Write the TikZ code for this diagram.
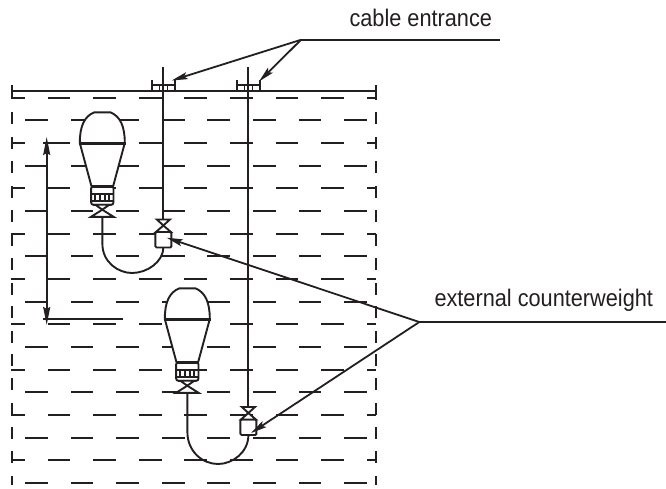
\documentclass[tikz,border=0pt]{standalone}
\usepackage{fontspec}
\setmainfont[FakeStretch=0.905]{Liberation Sans}
\usetikzlibrary{arrows.meta}
\definecolor{ink}{HTML}{231F20}
\tikzset{
  wline/.style={draw=ink,line width=1.9pt},
  leader/.style={draw=ink,line width=1.8pt,-{Stealth[length=16pt,width=7pt,inset=3pt]}},
  plain/.style={draw=ink,line width=1.9pt},
  label/.style={anchor=base west,inner sep=0pt,text=ink,font=\fontsize{24pt}{26pt}\selectfont},
}
% straight strokes as filled bars on the pixel grid, so that all of them render with one weight
\newcommand{\hbarline}[3]{\pgfmathsetmacro{\bara}{round(#3-1)+0.1}\pgfmathsetmacro{\barb}{\bara+1.8}\fill[ink] (#1,\bara) rectangle (#2,\barb);}
\newcommand{\vbarline}[3]{\pgfmathsetmacro{\bara}{round(#1-1)+0.1}\pgfmathsetmacro{\barb}{\bara+1.8}\fill[ink] (\bara,#2) rectangle (\barb,#3);}
\newcommand{\bulb}[2]{%
  \begin{scope}[shift={(#1,#2)}]
    \path[wline,fill=white,line join=round] (-22.5,30.7) .. controls (-22.5,14) and (-18,4) .. (-8,0) -- (8,0) .. controls (18,4) and (22.5,14) .. (22.5,30.7) -- (10.9,73.7) -- (-10.9,73.7) -- cycle;
    \fill[ink] (-23.5,29.2) rectangle (23.5,32.2);
    \path[wline,fill=white,rounded corners=2.5pt] (-11.2,73.7) -- (-11.2,92.6) -- (11.2,92.6) -- (11.2,73.7) -- cycle;
    \fill[ink] (-11.8,73) rectangle (11.8,75.4);
    \fill[ink] (-11.2,80.6) rectangle (11.2,82.6);
    \fill[ink] (-11.2,87.6) rectangle (11.2,89.6);
    \foreach \tx in {-7,-2.4,2.4,7}{\fill[ink] (\tx-0.9,81) rectangle (\tx+0.9,88);}
    \path[wline,fill=white,line join=miter] (-7,92.4) -- (7,92.4) -- (0,97.4) -- cycle;
    \path[wline,fill=white,line join=miter] (0,97.4) -- (11.4,104.6) -- (-11.4,104.6) -- cycle;
  \end{scope}}
\newcommand{\weight}[2]{%
  \begin{scope}[shift={(#1,#2)}]
    \path[wline,fill=white,rounded corners=1.2pt] (-8,232) rectangle (8,247.5);
    \path[wline,fill=white,line join=miter] (-6.5,219.5) -- (6.5,219.5) -- (0,225.5) -- cycle;
    \path[wline,fill=white,line join=miter] (0,225.5) -- (7.5,232) -- (-7.5,232) -- cycle;
  \end{scope}}
\begin{document}
\begin{tikzpicture}[x=1pt,y=-1pt]
\useasboundingbox (0,0) rectangle (666,488);
\fill[white] (0,0) rectangle (666,488);
% rows of the liquid
\foreach \k in {0,2,4,...,16}{
  \pgfmathsetmacro{\yy}{97.7+22.67*\k}
  \hbarline{11}{25}{\yy}
  \foreach \n in {0,...,6}{
    \pgfmathsetmacro{\xa}{47.5+45.6*\n}
    \pgfmathsetmacro{\xb}{\xa+22.8}
    \hbarline{\xa}{\xb}{\yy}
  }
  \hbarline{366.7}{376}{\yy}
}
\foreach \k in {1,3,...,17}{
  \pgfmathsetmacro{\yy}{97.7+22.67*\k}
  \foreach \n in {0,...,7}{
    \pgfmathsetmacro{\xa}{25+45.6*\n}
    \pgfmathsetmacro{\xb}{\xa+22.8}
    \hbarline{\xa}{\xb}{\yy}
  }
}
% tank walls
\foreach \yy in {112,137,161,186,210,234,258,283,306,331,354,378,403,427,451}{
  \pgfmathsetmacro{\ye}{\yy+12}
  \vbarline{11.5}{\yy}{\ye}
  \vbarline{375.8}{\yy}{\ye}
}
\vbarline{11.5}{85}{98}
\vbarline{375.8}{85}{100}
\vbarline{11.5}{476}{485}
\vbarline{375.8}{476}{485}
\hbarline{11.5}{375.8}{90.5}
% flanges
\foreach \cx in {163.4,248.4}{
  \pgfmathsetmacro{\xl}{\cx-11.3}
  \pgfmathsetmacro{\xr}{\cx+11.3}
  \vbarline{\xl}{80}{90.5}
  \vbarline{\xr}{80}{90.5}
  \hbarline{\xl}{\xr}{85.3}
  \fill[ink] (\cx-4.6,85) rectangle (\cx-3.4,90.5);
  \fill[ink] (\cx+3.4,85) rectangle (\cx+4.6,90.5);
}
% cables
\vbarline{163.4}{66.7}{220}
\vbarline{248.4}{66.7}{407}
% hoses
\draw[plain] (102.4,216) -- (102.4,244) .. controls (102.4,262) and (118,273) .. (132,273) .. controls (147,273) and (163.4,262) .. (163.4,247);
\draw[plain] (187.4,392) -- (187.4,432) .. controls (187.4,452) and (203,464) .. (218,464) .. controls (233,464) and (248.4,452) .. (248.4,435);
\bulb{102.3}{112.3}
\bulb{187.3}{288.3}
\weight{163.4}{0}
\weight{248.4}{187.5}
% dimension
\coordinate (dimtop) at (46.7,137);
\coordinate (dimbot) at (46.7,325);
\draw[draw=ink,line width=1.9pt,{Stealth[length=18pt,width=7pt,inset=2pt]}-{Stealth[length=18pt,width=7pt,inset=2pt]}] (dimtop) -- (dimbot);
\hbarline{43}{70}{143}
\hbarline{43}{123}{318.7}
% labels and leaders
\node[label] (cablelabel) at (349.3,26.7) {cable entrance};
\node[label] (weightlabel) at (434.3,306.7) {external counterweight};
\coordinate (cj) at (301,39.8);
\coordinate (cend) at (500,39.8);
\coordinate (ca) at (171.7,80.5);
\coordinate (cb) at (259,81.5);
\coordinate (wj) at (419.3,322);
\coordinate (wend) at (666,322);
\coordinate (wa) at (166.7,237.7);
\coordinate (wb) at (251,433);
\draw[plain] (cj) -- (cend);
\draw[leader] (cj) -- (ca);
\draw[leader] (cj) -- (cb);
\draw[plain] (wj) -- (wend);
\draw[leader] (wj) -- (wa);
\draw[leader] (wj) -- (wb);
\end{tikzpicture}
\end{document}
